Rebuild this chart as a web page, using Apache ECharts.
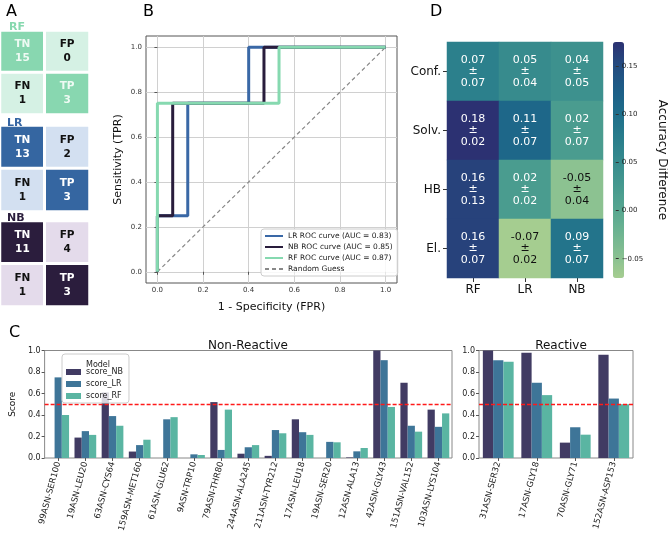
<!DOCTYPE html>
<html><head><meta charset="utf-8">
<script src="https://cdn.jsdelivr.net/npm/echarts@6/dist/echarts.min.js"></script>
<style>html,body{margin:0;padding:0;background:#fff}#c{width:668px;height:536px}</style>
</head><body><div id="c"></div>
<script>
// ---------- Panel A: confusion matrices ----------
const cmLabels = ['TN','FP','FN','TP'];
const rfCM = [15,0,1,3];
const lrCM = [13,2,1,3];
const nbCM = [11,4,1,3];

// ---------- Panel B: ROC ----------
const lrFpr = [0,0,0.133,0.133,0.4,0.4,1];
const lrTpr = [0,0.25,0.25,0.75,0.75,1,1];
const nbFpr = [0,0,0.067,0.067,0.467,0.467,1];
const nbTpr = [0,0.25,0.25,0.75,0.75,1,1];
const rfFpr = [0,0,0.533,0.533,1];
const rfTpr = [0,0.75,0.75,1,1];
const rocTicks = [0,0.2,0.4,0.6,0.8,1.0];

// ---------- Panel C: scores ----------
const nonReactCats = ['99ASN-SER100','19ASN-LEU20','63ASN-CYS64','159ASN-MET160','61ASN-GLU62','9ASN-TRP10','79ASN-THR80','244ASN-ALA245','211ASN-TYR212','17ASN-LEU18','19ASN-SER20','12ASN-ALA13','42ASN-GLY43','151ASN-VAL152','103ASN-LYS104'];
const nonReactNB = [0,0.19,0.61,0.06,0,0,0.52,0.04,0.02,0.36,0,0.005,1.0,0.70,0.45];
const nonReactLR = [0.75,0.25,0.39,0.12,0.36,0.034,0.075,0.10,0.26,0.24,0.15,0.062,0.91,0.30,0.29];
const nonReactRF = [0.40,0.215,0.30,0.17,0.38,0.028,0.45,0.12,0.23,0.215,0.146,0.093,0.475,0.245,0.415];
const reactCats = ['31ASN-SER32','17ASN-GLY18','70ASN-GLY71','152ASN-ASP153'];
const reactNB = [1.0,0.98,0.143,0.96];
const reactLR = [0.91,0.70,0.286,0.553];
const reactRF = [0.895,0.585,0.217,0.50];
const threshold = 0.5;

// ---------- Panel D: heatmap ----------
const hmCols = ['RF','LR','NB'];
const hmRows = ['Conf.','Solv.','HB','El.'];
const hmMean = [[0.07,0.05,0.04],[0.18,0.11,0.02],[0.16,0.02,-0.05],[0.16,-0.07,0.09]];
const hmStd  = [[0.07,0.04,0.05],[0.02,0.07,0.07],[0.13,0.02,0.04],[0.07,0.02,0.07]];
const cbTicks = [-0.05,0,0.05,0.10,0.15];

const FONT = 'DejaVu Sans';
const crest = ['#a5cd90','#86bf91','#6bb391','#55a590','#44988f','#358a8d','#287c8c','#1e6d8a','#1d5d87','#244c80','#2c3172'];
const cNB = '#413b63', cLR = '#3e7598', cRF = '#5ab5a2';

const chart = echarts.init(document.getElementById('c'));

function cmData(vals, dark, light, darkText){
  return vals.map((v,i)=>{
    const col = i%2, row = Math.floor(i/2);
    const diag = col===row;
    return {value:[col,row,v], name:cmLabels[i],
      itemStyle:{color: diag?dark:light},
      label:{color: diag?darkText:'#111'}};
  });
}
function cmSeries(idx, vals, dark, light, darkText){
  return {type:'heatmap', xAxisIndex:idx, yAxisIndex:idx,
    data: cmData(vals,dark,light,darkText),
    itemStyle:{borderColor:'#fff', borderWidth:3},
    label:{show:true, fontFamily:FONT, fontWeight:'bold', fontSize:10.5, lineHeight:14,
      formatter:p=>p.name+'\n'+p.value[2]},
    emphasis:{disabled:true}};
}
const cmGrids = [{left:-0.5,top:30.5,width:90,height:84},{left:-0.5,top:125.5,width:90,height:86},{left:-0.5,top:221,width:90,height:85.5}];

const hideCat = (gi)=>({type:'category', gridIndex:gi, data:['0','1'], show:false});

const rocSplit = {show:true, lineStyle:{color:'#d0d0d0', width:1}};
const hmData = [];
hmMean.forEach((r,ri)=>r.forEach((v,ci)=>hmData.push({value:[ci,ri,v,hmStd[ri][ci]], label:{color: v< -0.03 ? '#111':'#fff'}})));

const option = {
  animation:false,
  textStyle:{fontFamily:FONT},
  title:[
    {text:'A', left:1, top:-1, textStyle:{fontFamily:FONT,fontWeight:'normal',fontSize:16,color:'#000'}},
    {text:'B', left:138, top:-1, textStyle:{fontFamily:FONT,fontWeight:'normal',fontSize:16,color:'#000'}},
    {text:'D', left:425, top:-1, textStyle:{fontFamily:FONT,fontWeight:'normal',fontSize:16,color:'#000'}},
    {text:'C', left:4, top:320, textStyle:{fontFamily:FONT,fontWeight:'normal',fontSize:16,color:'#000'}},
    {text:'RF', left:4, top:17, textStyle:{fontFamily:FONT,fontWeight:'bold',fontSize:11,color:'#86d8ae'}},
    {text:'LR', left:2, top:113, textStyle:{fontFamily:FONT,fontWeight:'bold',fontSize:11,color:'#3565a3'}},
    {text:'NB', left:2, top:208, textStyle:{fontFamily:FONT,fontWeight:'bold',fontSize:11,color:'#2a1d3c'}},
    {text:'Non-Reactive', left:243, top:335, textAlign:'center', textStyle:{fontFamily:FONT,fontWeight:'normal',fontSize:12,color:'#111'}},
    {text:'Reactive', left:556, top:335, textAlign:'center', textStyle:{fontFamily:FONT,fontWeight:'normal',fontSize:12,color:'#111'}},
    {text:'Model', left:93, top:356, textAlign:'center', z:20, textStyle:{fontFamily:FONT,fontWeight:'normal',fontSize:8,color:'#222'}}
  ],
  grid:[
    cmGrids[0], cmGrids[1], cmGrids[2],
    {left:146, top:36, width:251, height:247, show:true, borderColor:'#555', borderWidth:1},   // 3 ROC
    {left:447, top:42, width:156, height:236},   // 4 heatmap
    {left:613, top:42, width:11, height:236, z:10},    // 5 colorbar axis
    {left:34, top:350.5, width:418, height:107.5, show:true, borderColor:'#888', borderWidth:1}, // 6 nonreactive
    {left:479, top:350.5, width:154, height:107.5, show:true, borderColor:'#888', borderWidth:1}  // 7 reactive
  ],
  xAxis:[
    hideCat(0), hideCat(1), hideCat(2),
    {type:'value', gridIndex:3, min:-0.05, max:1.05,
      name:'1 - Specificity (FPR)', nameLocation:'middle', nameGap:19,
      nameTextStyle:{fontFamily:FONT,fontSize:11,color:'#111'},
      axisLine:{show:false},
      axisTick:{show:true, length:3, customValues:rocTicks, lineStyle:{color:'#555'}},
      axisLabel:{customValues:rocTicks, fontFamily:FONT, fontSize:7, color:'#333', margin:4, formatter:v=>v.toFixed(1)},
      splitLine:rocSplit},
    {type:'category', gridIndex:4, data:hmCols, position:'bottom',
      axisLine:{show:false}, axisTick:{show:true,length:4,alignWithLabel:true,lineStyle:{color:'#333'}},
      axisLabel:{fontFamily:FONT,fontSize:12,color:'#111',margin:6}},
    {type:'category', gridIndex:5, data:['c'], show:false},
    {type:'category', gridIndex:6, data:nonReactCats,
      axisLine:{show:false}, axisTick:{show:true,length:3,alignWithLabel:true,lineStyle:{color:'#555'}},
      axisLabel:{rotate:75, fontFamily:FONT, fontSize:8.5, color:'#222', margin:4, interval:0}},
    {type:'category', gridIndex:7, data:reactCats,
      axisLine:{show:false}, axisTick:{show:true,length:3,alignWithLabel:true,lineStyle:{color:'#555'}},
      axisLabel:{rotate:75, fontFamily:FONT, fontSize:8.5, color:'#222', margin:4, interval:0}}
  ],
  yAxis:[
    Object.assign(hideCat(0),{inverse:true}), Object.assign(hideCat(1),{inverse:true}), Object.assign(hideCat(2),{inverse:true}),
    {type:'value', gridIndex:3, min:-0.05, max:1.05,
      name:'Sensitivity (TPR)', nameLocation:'middle', nameGap:22,
      nameTextStyle:{fontFamily:FONT,fontSize:11,color:'#111'},
      axisLine:{show:false},
      axisTick:{show:true, length:3, customValues:rocTicks, lineStyle:{color:'#555'}},
      axisLabel:{customValues:rocTicks, fontFamily:FONT, fontSize:7, color:'#333', margin:4, formatter:v=>v.toFixed(1)},
      splitLine:rocSplit},
    {type:'category', gridIndex:4, data:hmRows, inverse:true,
      axisLine:{show:false}, axisTick:{show:true,length:4,alignWithLabel:true,lineStyle:{color:'#333'}},
      axisLabel:{fontFamily:FONT,fontSize:12,color:'#111',margin:6}},
    {type:'value', gridIndex:5, position:'right', min:-0.07, max:0.175, z:20,
      name:'Accuracy Difference', nameLocation:'middle', nameRotate:-90, nameGap:40,
      nameTextStyle:{fontFamily:FONT,fontSize:12,color:'#111'},
      axisLine:{show:false}, splitLine:{show:false},
      axisTick:{show:true,length:3,customValues:cbTicks,lineStyle:{color:'#333'}},
      axisLabel:{customValues:cbTicks, fontFamily:FONT, fontSize:7, color:'#222', margin:6, align:'left',
        formatter:v=>(v<0?'\u2212':'')+Math.abs(v).toFixed(2)}},
    {type:'value', gridIndex:6, min:0, max:1, interval:0.2,
      name:'Score', nameLocation:'middle', nameGap:23, nameTextStyle:{fontFamily:FONT,fontSize:9,color:'#111'},
      axisLine:{show:false}, splitLine:{show:false},
      axisTick:{show:true,length:3,lineStyle:{color:'#555'}},
      axisLabel:{fontFamily:FONT,fontSize:8,color:'#222',margin:4,formatter:v=>v.toFixed(1)}},
    {type:'value', gridIndex:7, min:0, max:1, interval:0.2,
      axisLine:{show:false}, splitLine:{show:false},
      axisTick:{show:true,length:3,lineStyle:{color:'#555'}},
      axisLabel:{fontFamily:FONT,fontSize:8,color:'#222',margin:4,formatter:v=>v.toFixed(1)}}
  ],
  visualMap:{type:'continuous', seriesIndex:3, dimension:2, min:-0.07, max:0.175, inRange:{color:crest},
    left:613, top:42, itemWidth:11, itemHeight:236, padding:0, calculable:false, text:null, showLabel:false,
    hoverLink:false, z:1},
  legend:[
    {left:261, top:229, orient:'vertical', padding:[3,5,3,3], itemGap:3, itemWidth:18, itemHeight:7,
      backgroundColor:'rgba(255,255,255,0.85)', borderColor:'#ccc', borderWidth:1, borderRadius:3,
      itemStyle:{opacity:0},
      textStyle:{fontFamily:FONT,fontSize:7.5,color:'#222'}, selectedMode:false,
      data:['LR ROC curve (AUC = 0.83)','NB ROC curve (AUC = 0.85)','RF ROC curve (AUC = 0.87)','Random Guess']},
    {left:62, top:354, orient:'vertical', padding:[14,6,3,4], itemGap:4, itemWidth:15, itemHeight:6,
      backgroundColor:'rgba(255,255,255,0.8)', borderColor:'#ccc', borderWidth:1, borderRadius:3, z:15,
      textStyle:{fontFamily:FONT,fontSize:8,color:'#222'}, selectedMode:false, icon:'rect',
      data:['score_NB','score_LR','score_RF']}
  ],
  series:[
    cmSeries(0, rfCM, '#88d7b0', '#d5f1e4', '#eefaf3'),
    cmSeries(1, lrCM, '#3566a1', '#d3e0f1', '#ffffff'),
    cmSeries(2, nbCM, '#2b1d3d', '#e4dbeb', '#ffffff'),
    {type:'heatmap', xAxisIndex:4, yAxisIndex:4, data:hmData,
      label:{show:true, fontFamily:FONT, fontSize:11, lineHeight:11.5,
        formatter:p=>{const f=x=>(x<0?'-':'')+Math.abs(x).toFixed(2);return f(p.value[2])+'\n±\n'+f(p.value[3]);}},
      emphasis:{disabled:true}},
    {type:'line', name:'LR ROC curve (AUC = 0.83)', xAxisIndex:3, yAxisIndex:3, showSymbol:false, symbol:'none',
      lineStyle:{color:'#3a68a6', width:3}, itemStyle:{color:'#3a68a6'}, data:lrFpr.map((x,i)=>[x,lrTpr[i]])},
    {type:'line', name:'NB ROC curve (AUC = 0.85)', xAxisIndex:3, yAxisIndex:3, showSymbol:false, symbol:'none',
      lineStyle:{color:'#291d3c', width:3}, itemStyle:{color:'#291d3c'}, data:nbFpr.map((x,i)=>[x,nbTpr[i]])},
    {type:'line', name:'RF ROC curve (AUC = 0.87)', xAxisIndex:3, yAxisIndex:3, showSymbol:false, symbol:'none',
      lineStyle:{color:'#86d9b0', width:3}, itemStyle:{color:'#86d9b0'}, data:rfFpr.map((x,i)=>[x,rfTpr[i]])},
    {type:'line', name:'Random Guess', xAxisIndex:3, yAxisIndex:3, showSymbol:false, symbol:'none',
      lineStyle:{color:'#888', width:1.2, type:[4,3]}, itemStyle:{color:'#888'}, data:[[0,0],[1,1]], z:1},
    {type:'bar', name:'score_NB', xAxisIndex:6, yAxisIndex:6, data:nonReactNB, itemStyle:{color:cNB},
      barGap:'0%', barCategoryGap:'20%',
      markLine:{silent:true, symbol:'none', label:{show:false}, lineStyle:{color:'#ff1a1a', type:[4,2], width:1.3}, data:[{yAxis:threshold}]}},
    {type:'bar', name:'score_LR', xAxisIndex:6, yAxisIndex:6, data:nonReactLR, itemStyle:{color:cLR}, barGap:'0%', barCategoryGap:'20%'},
    {type:'bar', name:'score_RF', xAxisIndex:6, yAxisIndex:6, data:nonReactRF, itemStyle:{color:cRF}, barGap:'0%', barCategoryGap:'20%'},
    {type:'bar', name:'score_NB', xAxisIndex:7, yAxisIndex:7, data:reactNB, itemStyle:{color:cNB},
      barGap:'0%', barCategoryGap:'20%',
      markLine:{silent:true, symbol:'none', label:{show:false}, lineStyle:{color:'#ff1a1a', type:[4,2], width:1.3}, data:[{yAxis:threshold}]}},
    {type:'bar', name:'score_LR', xAxisIndex:7, yAxisIndex:7, data:reactLR, itemStyle:{color:cLR}, barGap:'0%', barCategoryGap:'20%'},
    {type:'bar', name:'score_RF', xAxisIndex:7, yAxisIndex:7, data:reactRF, itemStyle:{color:cRF}, barGap:'0%', barCategoryGap:'20%'}
  ]
};
chart.setOption(option);
</script></body></html>
